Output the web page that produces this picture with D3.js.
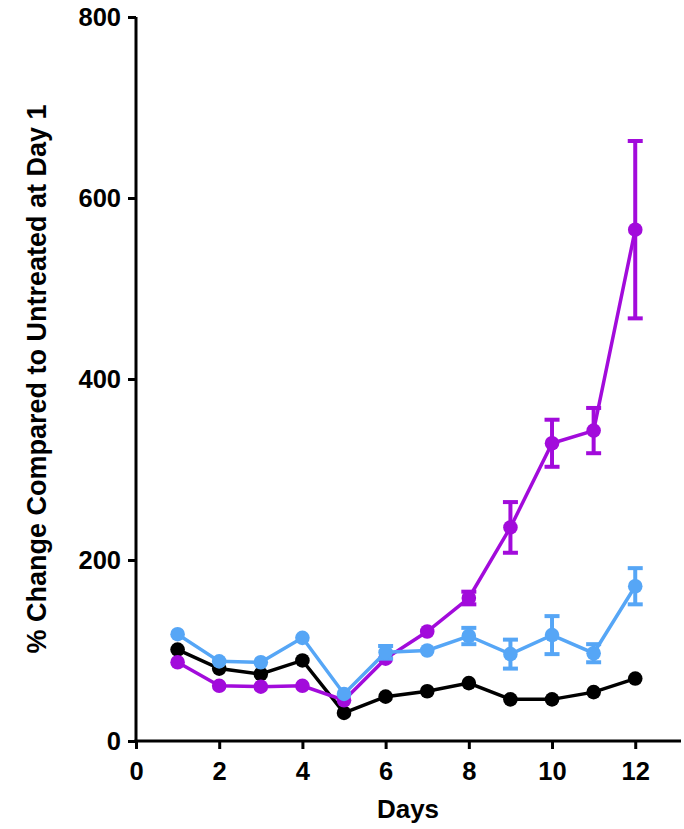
<!DOCTYPE html>
<html><head><meta charset="utf-8">
<script src="https://cdn.jsdelivr.net/npm/d3@7"></script>
<style>body{margin:0;background:#fff}svg{display:block}text{font-family:"Liberation Sans",Arial,sans-serif;font-weight:bold}</style>
</head><body><svg id="c" width="684" height="829"></svg>
<script>
const days = [1,2,3,4,5,6,7,8,9,10,11,12];
const blackVals = [101,80,74,89,31,49,55,64,46,46,54,69];
const blackErr  = [0,0,0,0,0,0,0,0,0,0,0,0];
const blueVals  = [118,88,87,114,52,98,100,116,96,117,97,171];
const blueErr   = [0,0,0,0,0,7,0,9,16,21,10,20];
const purpleVals= [87,61,60,61,45,91,121,158,236,329,343,565];
const purpleErr = [0,0,0,0,0,0,0,7,28,26,25,98];
const xTicks = [0,2,4,6,8,10,12];
const yTicks = [0,200,400,600,800];

const svg = d3.select("#c");
const x = d3.scaleLinear().domain([0,13.1]).range([136,681]);
const y = d3.scaleLinear().domain([0,800]).range([741,17]);

const ax = svg.append("g").attr("transform","translate(0,741)")
  .call(d3.axisBottom(x).tickValues(xTicks).tickSize(8).tickSizeOuter(0).tickPadding(13));
const ay = svg.append("g").attr("transform","translate(136,0)")
  .call(d3.axisLeft(y).tickValues(yTicks).tickSize(8).tickSizeOuter(0).tickPadding(7));
[ax,ay].forEach(g=>{
  g.attr("font-size",null).attr("font-family",null);
  g.select(".domain").attr("stroke","#000").attr("stroke-width",3);
  g.selectAll(".tick line").attr("stroke","#000").attr("stroke-width",3);
  g.selectAll(".tick text").attr("fill","#000").style("font-size","25.5px");
});
ay.select(".domain").attr("d","M0,17V742.5");
ax.select(".domain").attr("d","M134.5,0H681");

svg.append("text").attr("x",408).attr("y",818).attr("text-anchor","middle")
  .style("font-size","26px").text("Days");
svg.append("text").attr("transform","translate(46,379) rotate(-90)").attr("text-anchor","middle")
  .style("font-size","27px").text("% Change Compared to Untreated at Day 1");

const series = [
  {vals: blackVals, err: blackErr, color:"#000000"},
  {vals: purpleVals, err: purpleErr, color:"#A20BDB"},
  {vals: blueVals, err: blueErr, color:"#56A6F6"}
];
const line = d3.line().x((d,i)=>x(days[i])).y(d=>y(d));
series.forEach(s=>{
  const g = svg.append("g");
  g.append("path").datum(s.vals).attr("d",line).attr("fill","none")
    .attr("stroke",s.color).attr("stroke-width",3.5);
  const eb = g.selectAll(".eb").data(s.vals.map((v,i)=>({v,e:s.err[i],d:days[i]})).filter(o=>o.e>0))
    .enter().append("g");
  eb.append("line").attr("x1",o=>x(o.d)).attr("x2",o=>x(o.d)).attr("y1",o=>y(o.v+o.e)).attr("y2",o=>y(o.v-o.e))
    .attr("stroke",s.color).attr("stroke-width",4);
  [1,-1].forEach(sg=>{
    eb.append("line").attr("x1",o=>x(o.d)-7.5).attr("x2",o=>x(o.d)+7.5)
      .attr("y1",o=>y(o.v+sg*o.e)).attr("y2",o=>y(o.v+sg*o.e))
      .attr("stroke",s.color).attr("stroke-width",4);
  });
  g.selectAll("circle").data(s.vals).enter().append("circle")
    .attr("cx",(d,i)=>x(days[i])).attr("cy",d=>y(d)).attr("r",7.3).attr("fill",s.color);
});
</script></body></html>
